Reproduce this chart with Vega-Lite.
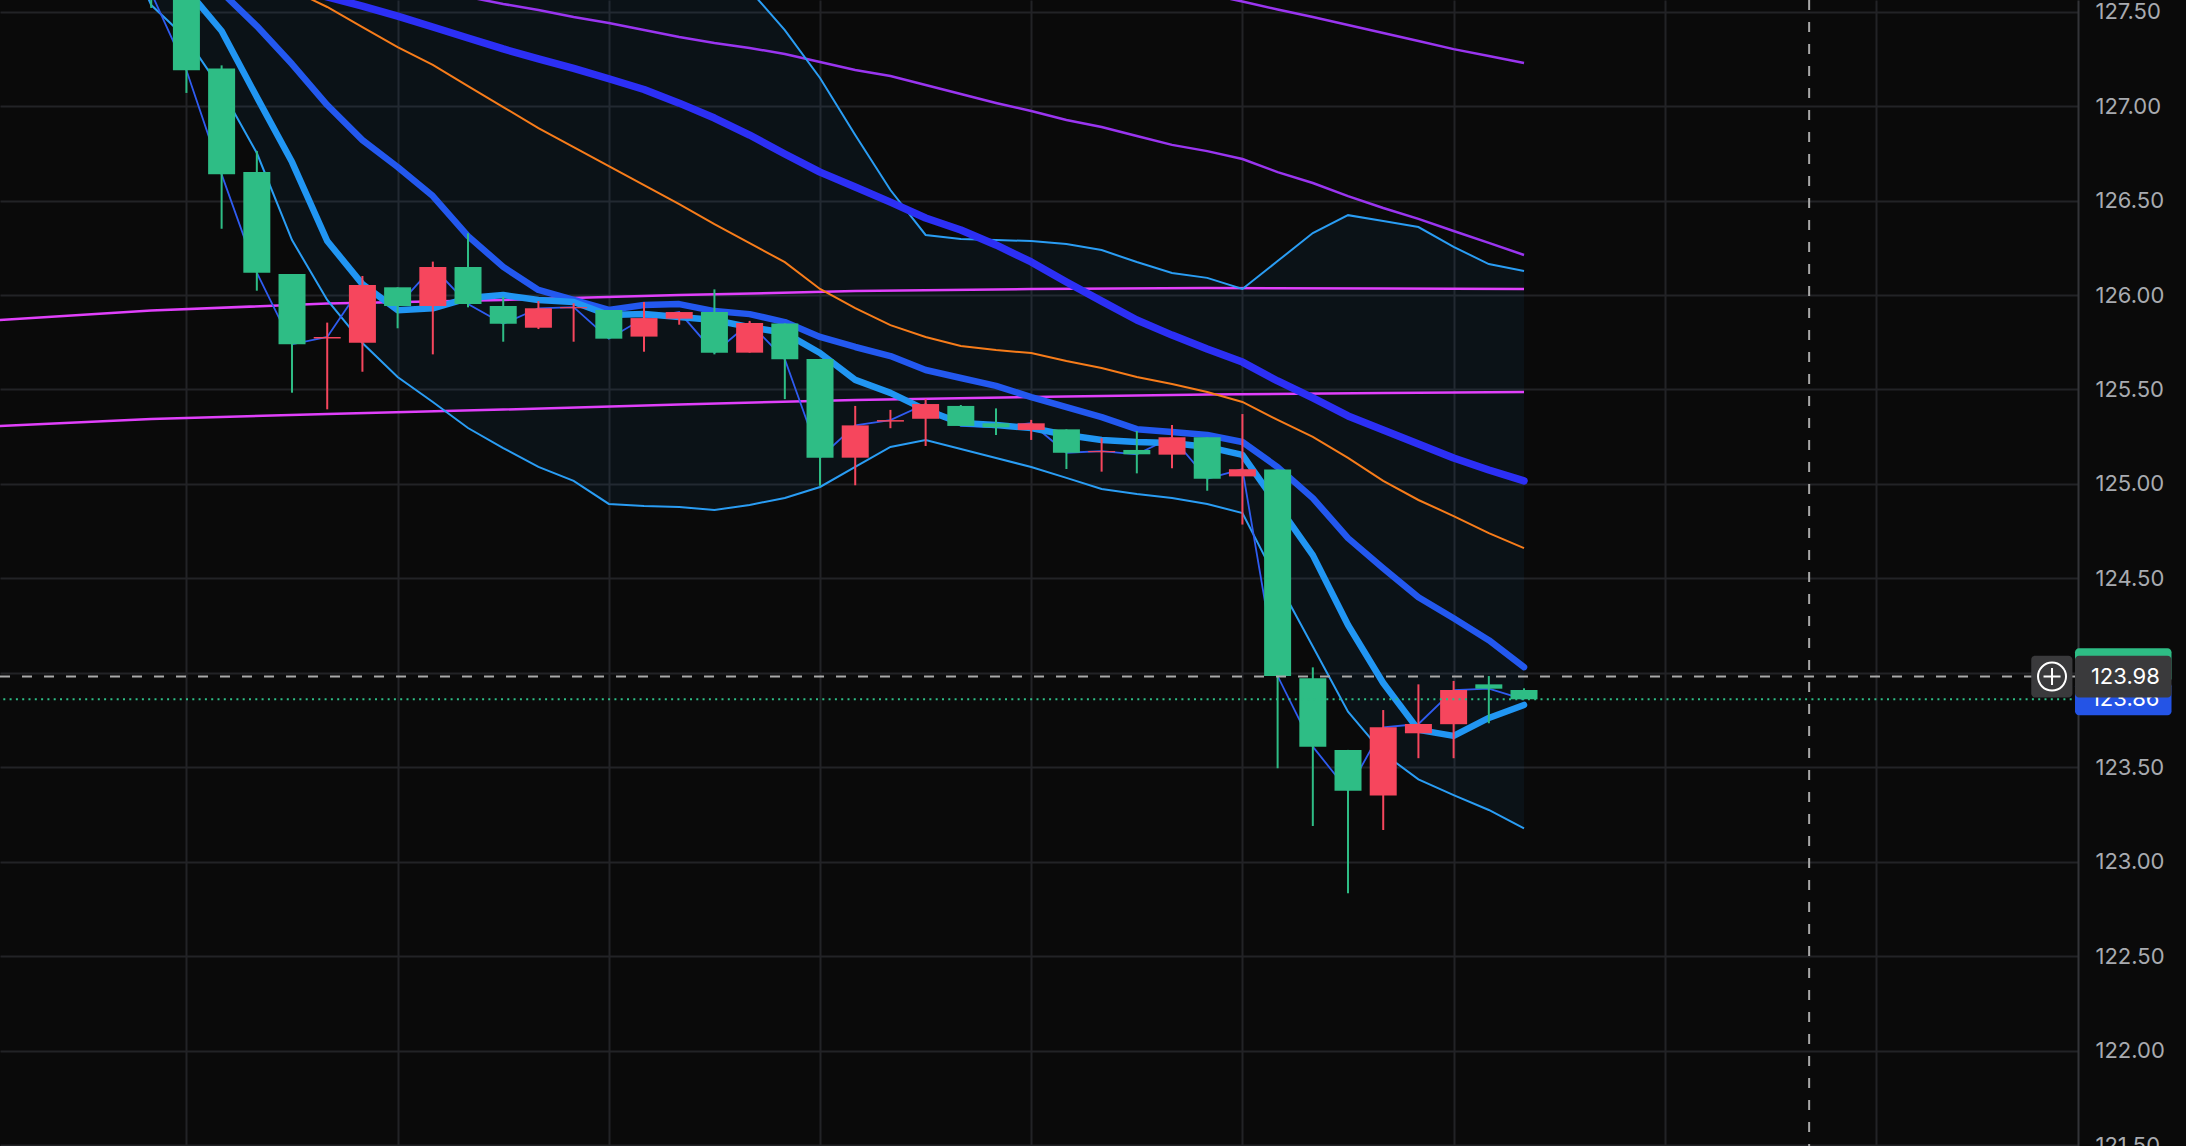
{
  "$schema": "https://vega.github.io/schema/vega-lite/v6.json",
  "width": 2078,
  "height": 1146,
  "autosize": {"type": "none"},
  "padding": {"left": 0, "top": 0, "right": 108, "bottom": 0},
  "background": "#0a0a0a",
  "config": {"view": {"stroke": null}},
  "datasets": {
    "bars": [
      {"i": -1, "o": null, "h": null, "l": null, "c": null, "d": null, "bu": 129.7, "bl": 127.95, "e1": null, "e2": null, "e3": null, "or": null, "p1": null, "p2": null},
      {"i": 0, "o": 128.0, "h": 128.1, "l": 127.52, "c": 127.6, "d": "dn", "bu": 129.6, "bl": 127.535, "e1": 127.95, "e2": null, "e3": null, "or": null, "p1": null, "p2": null},
      {"i": 1, "o": 127.6, "h": 127.62, "l": 127.07, "c": 127.19, "d": "dn", "bu": 129.5, "bl": 127.36, "e1": 127.62, "e2": 127.8, "e3": null, "or": null, "p1": null, "p2": null},
      {"i": 2, "o": 127.2, "h": 127.216, "l": 126.351, "c": 126.639, "d": "dn", "bu": 129.4, "bl": 127.085, "e1": 127.398, "e2": 127.604, "e3": null, "or": null, "p1": null, "p2": null},
      {"i": 3, "o": 126.651, "h": 126.763, "l": 126.023, "c": 126.118, "d": "dn", "bu": 129.3, "bl": 126.752, "e1": 127.048, "e2": 127.424, "e3": 127.69, "or": 127.7, "p1": null, "p2": null},
      {"i": 4, "o": 126.111, "h": 126.111, "l": 125.483, "c": 125.739, "d": "dn", "bu": 129.2, "bl": 126.291, "e1": 126.704, "e2": 127.223, "e3": 127.63, "or": 127.615, "p1": null, "p2": null},
      {"i": 5, "o": 125.77, "h": 125.854, "l": 125.395, "c": 125.778, "d": "up", "bu": 129.1, "bl": 125.974, "e1": 126.286, "e2": 127.006, "e3": 127.578, "or": 127.525, "p1": null, "p2": null},
      {"i": 6, "o": 125.748, "h": 126.101, "l": 125.594, "c": 126.053, "d": "up", "bu": 129.0, "bl": 125.746, "e1": 126.058, "e2": 126.82, "e3": 127.53, "or": 127.419, "p1": null, "p2": null},
      {"i": 7, "o": 126.041, "h": 126.041, "l": 125.824, "c": 125.942, "d": "dn", "bu": 128.9, "bl": 125.566, "e1": 125.92, "e2": 126.678, "e3": 127.477, "or": 127.313, "p1": null, "p2": null},
      {"i": 8, "o": 125.942, "h": 126.177, "l": 125.686, "c": 126.148, "d": "up", "bu": 128.8, "bl": 125.434, "e1": 125.93, "e2": 126.524, "e3": 127.419, "or": 127.218, "p1": 127.62, "p2": null},
      {"i": 9, "o": 126.148, "h": 126.327, "l": 125.935, "c": 125.953, "d": "dn", "bu": 128.7, "bl": 125.296, "e1": 125.984, "e2": 126.312, "e3": 127.361, "or": 127.106, "p1": 127.578, "p2": null},
      {"i": 10, "o": 125.942, "h": 125.991, "l": 125.753, "c": 125.848, "d": "dn", "bu": 128.6, "bl": 125.19, "e1": 126.0, "e2": 126.149, "e3": 127.303, "or": 126.995, "p1": 127.541, "p2": null},
      {"i": 11, "o": 125.827, "h": 125.968, "l": 125.82, "c": 125.93, "d": "up", "bu": 128.5, "bl": 125.09, "e1": 125.974, "e2": 126.027, "e3": 127.25, "or": 126.884, "p1": 127.509, "p2": null},
      {"i": 12, "o": 125.93, "h": 125.956, "l": 125.753, "c": 125.936, "d": "up", "bu": 128.4, "bl": 125.016, "e1": 125.963, "e2": 125.974, "e3": 127.2, "or": 126.783, "p1": 127.472, "p2": null},
      {"i": 13, "o": 125.921, "h": 125.921, "l": 125.769, "c": 125.769, "d": "dn", "bu": 128.3, "bl": 124.894, "e1": 125.894, "e2": 125.921, "e3": 127.145, "or": 126.683, "p1": 127.44, "p2": null},
      {"i": 14, "o": 125.78, "h": 125.963, "l": 125.7, "c": 125.878, "d": "up", "bu": 128.2, "bl": 124.883, "e1": 125.9, "e2": 125.947, "e3": 127.088, "or": 126.582, "p1": 127.403, "p2": null},
      {"i": 15, "o": 125.875, "h": 125.91, "l": 125.843, "c": 125.91, "d": "up", "bu": 128.1, "bl": 124.878, "e1": 125.884, "e2": 125.952, "e3": 127.016, "or": 126.481, "p1": 127.366, "p2": null},
      {"i": 16, "o": 125.91, "h": 126.03, "l": 125.686, "c": 125.695, "d": "dn", "bu": 127.8, "bl": 124.862, "e1": 125.868, "e2": 125.915, "e3": 126.937, "or": 126.375, "p1": 127.334, "p2": null},
      {"i": 17, "o": 125.695, "h": 125.863, "l": 125.695, "c": 125.852, "d": "up", "bu": 127.615, "bl": 124.889, "e1": 125.83, "e2": 125.899, "e3": 126.847, "or": 126.275, "p1": 127.308, "p2": null},
      {"i": 18, "o": 125.85, "h": 125.85, "l": 125.449, "c": 125.66, "d": "dn", "bu": 127.403, "bl": 124.926, "e1": 125.8, "e2": 125.857, "e3": 126.747, "or": 126.174, "p1": 127.276, "p2": null},
      {"i": 19, "o": 125.661, "h": 125.661, "l": 124.99, "c": 125.139, "d": "dn", "bu": 127.149, "bl": 124.984, "e1": 125.693, "e2": 125.778, "e3": 126.651, "or": 126.032, "p1": 127.234, "p2": null},
      {"i": 20, "o": 125.139, "h": 125.413, "l": 124.993, "c": 125.31, "d": "up", "bu": 126.847, "bl": 125.09, "e1": 125.551, "e2": 125.725, "e3": 126.572, "or": 125.931, "p1": 127.191, "p2": null},
      {"i": 21, "o": 125.33, "h": 125.392, "l": 125.295, "c": 125.338, "d": "up", "bu": 126.556, "bl": 125.196, "e1": 125.482, "e2": 125.677, "e3": 126.492, "or": 125.841, "p1": 127.16, "p2": null},
      {"i": 22, "o": 125.345, "h": 125.45, "l": 125.201, "c": 125.423, "d": "up", "bu": 126.318, "bl": 125.233, "e1": 125.392, "e2": 125.603, "e3": 126.408, "or": 125.778, "p1": 127.112, "p2": null},
      {"i": 23, "o": 125.413, "h": 125.418, "l": 125.307, "c": 125.307, "d": "dn", "bu": 126.297, "bl": 125.185, "e1": 125.323, "e2": 125.561, "e3": 126.344, "or": 125.73, "p1": 127.064, "p2": null},
      {"i": 24, "o": 125.321, "h": 125.4, "l": 125.259, "c": 125.3, "d": "dn", "bu": 126.291, "bl": 125.137, "e1": 125.312, "e2": 125.519, "e3": 126.265, "or": 125.709, "p1": 127.017, "p2": null},
      {"i": 25, "o": 125.286, "h": 125.339, "l": 125.233, "c": 125.321, "d": "up", "bu": 126.286, "bl": 125.09, "e1": 125.296, "e2": 125.46, "e3": 126.175, "or": 125.693, "p1": 126.974, "p2": null},
      {"i": 26, "o": 125.289, "h": 125.289, "l": 125.079, "c": 125.165, "d": "dn", "bu": 126.27, "bl": 125.032, "e1": 125.259, "e2": 125.407, "e3": 126.069, "or": 125.651, "p1": 126.927, "p2": null},
      {"i": 27, "o": 125.168, "h": 125.242, "l": 125.065, "c": 125.174, "d": "up", "bu": 126.238, "bl": 124.973, "e1": 125.233, "e2": 125.354, "e3": 125.968, "or": 125.614, "p1": 126.89, "p2": null},
      {"i": 28, "o": 125.18, "h": 125.28, "l": 125.056, "c": 125.157, "d": "dn", "bu": 126.175, "bl": 124.947, "e1": 125.222, "e2": 125.29, "e3": 125.868, "or": 125.566, "p1": 126.842, "p2": null},
      {"i": 29, "o": 125.155, "h": 125.312, "l": 125.083, "c": 125.247, "d": "up", "bu": 126.117, "bl": 124.926, "e1": 125.217, "e2": 125.275, "e3": 125.788, "or": 125.529, "p1": 126.795, "p2": 127.63},
      {"i": 30, "o": 125.247, "h": 125.247, "l": 124.964, "c": 125.028, "d": "dn", "bu": 126.091, "bl": 124.894, "e1": 125.196, "e2": 125.259, "e3": 125.714, "or": 125.487, "p1": 126.762, "p2": 127.594},
      {"i": 31, "o": 125.04, "h": 125.37, "l": 124.785, "c": 125.078, "d": "up", "bu": 126.032, "bl": 124.846, "e1": 125.154, "e2": 125.222, "e3": 125.645, "or": 125.434, "p1": 126.72, "p2": 127.554},
      {"i": 32, "o": 125.077, "h": 125.077, "l": 123.495, "c": 123.983, "d": "dn", "bu": 126.18, "bl": 124.483, "e1": 124.888, "e2": 125.089, "e3": 125.545, "or": 125.339, "p1": 126.651, "p2": 127.512},
      {"i": 33, "o": 123.971, "h": 124.029, "l": 123.189, "c": 123.609, "d": "dn", "bu": 126.328, "bl": 124.139, "e1": 124.623, "e2": 124.925, "e3": 125.455, "or": 125.249, "p1": 126.593, "p2": 127.472},
      {"i": 34, "o": 123.592, "h": 123.592, "l": 122.833, "c": 123.376, "d": "dn", "bu": 126.423, "bl": 123.794, "e1": 124.253, "e2": 124.713, "e3": 125.36, "or": 125.138, "p1": 126.524, "p2": 127.43},
      {"i": 35, "o": 123.35, "h": 123.803, "l": 123.168, "c": 123.712, "d": "up", "bu": 126.392, "bl": 123.574, "e1": 123.946, "e2": 124.554, "e3": 125.286, "or": 125.016, "p1": 126.461, "p2": 127.387},
      {"i": 36, "o": 123.68, "h": 123.939, "l": 123.548, "c": 123.729, "d": "up", "bu": 126.36, "bl": 123.436, "e1": 123.698, "e2": 124.4, "e3": 125.212, "or": 124.915, "p1": 126.403, "p2": 127.345},
      {"i": 37, "o": 123.728, "h": 123.957, "l": 123.548, "c": 123.909, "d": "up", "bu": 126.255, "bl": 123.353, "e1": 123.666, "e2": 124.289, "e3": 125.137, "or": 124.83, "p1": 126.339, "p2": 127.302},
      {"i": 38, "o": 123.939, "h": 123.983, "l": 123.733, "c": 123.916, "d": "dn", "bu": 126.164, "bl": 123.274, "e1": 123.761, "e2": 124.173, "e3": 125.074, "or": 124.74, "p1": 126.276, "p2": 127.265},
      {"i": 39, "o": 123.909, "h": 123.918, "l": 123.86, "c": 123.86, "d": "dn", "bu": 126.127, "bl": 123.177, "e1": 123.83, "e2": 124.03, "e3": 125.016, "or": 124.66, "p1": 126.212, "p2": 127.228}
    ],
    "mag": [
      {"i": -5, "m1": 125.86, "m2": 125.3},
      {"i": 0, "m1": 125.918, "m2": 125.344},
      {"i": 5, "m1": 125.955, "m2": 125.37},
      {"i": 10, "m1": 125.974, "m2": 125.394},
      {"i": 15, "m1": 126.0, "m2": 125.421},
      {"i": 20, "m1": 126.021, "m2": 125.444},
      {"i": 25, "m1": 126.032, "m2": 125.46},
      {"i": 30, "m1": 126.037, "m2": 125.474},
      {"i": 35, "m1": 126.035, "m2": 125.481},
      {"i": 39, "m1": 126.032, "m2": 125.487}
    ],
    "prices": [
      {"p": 123.98, "t": "123.98"},
      {"p": 123.86, "t": "123.86"}
    ]
  },
  "data": {"name": "bars"},
  "layer": [
    {
      "mark": {"type": "area", "color": "#2196f3", "opacity": 0.06, "clip": true, "invalid": "filter"},
      "encoding": {
        "x": {"field": "i", "type": "quantitative", "title": null, "scale": {"domain": [-4.154, 54.596], "nice": false, "zero": false},
          "axis": {"values": [1, 7, 13, 19, 25, 31, 37, 43, 49], "labels": false, "ticks": false, "domain": false, "grid": true, "gridColor": "#222326", "gridWidth": 2, "title": null}},
        "y": {"field": "bl", "type": "quantitative", "title": null, "scale": {"domain": [121.495, 127.562], "nice": false, "zero": false},
          "axis": {"orient": "right", "values": [121.5, 122, 122.5, 123, 123.5, 124, 124.5, 125, 125.5, 126, 126.5, 127, 127.5], "format": ".2f", "labelFont": "Inter", "labelFontSize": 22, "labelColor": "#a8abb0", "labelPadding": 17, "ticks": false, "tickSize": 0, "domain": true, "domainColor": "#333438", "domainWidth": 2, "grid": true, "gridColor": "#222326", "gridWidth": 2, "title": null, "labelAlign": "left", "labelBaseline": "middle"}},
        "y2": {"field": "bu"}
      }
    },
    {
      "data": {"name": "mag"},
      "mark": {"type": "line", "color": "#e040fb", "strokeWidth": 2.5, "clip": true},
      "encoding": {
        "x": {"field": "i", "type": "quantitative", "title": null},
        "y": {"field": "m1", "type": "quantitative", "title": null}
      }
    },
    {
      "data": {"name": "mag"},
      "mark": {"type": "line", "color": "#e040fb", "strokeWidth": 2.5, "clip": true},
      "encoding": {
        "x": {"field": "i", "type": "quantitative", "title": null},
        "y": {"field": "m2", "type": "quantitative", "title": null}
      }
    },
    {
      "mark": {"type": "line", "color": "#9a35f0", "strokeWidth": 2.5, "clip": true, "invalid": "filter"},
      "encoding": {
        "x": {"field": "i", "type": "quantitative", "title": null},
        "y": {"field": "p1", "type": "quantitative", "title": null}
      }
    },
    {
      "mark": {"type": "line", "color": "#9a35f0", "strokeWidth": 2.5, "clip": true, "invalid": "filter"},
      "encoding": {
        "x": {"field": "i", "type": "quantitative", "title": null},
        "y": {"field": "p2", "type": "quantitative", "title": null}
      }
    },
    {
      "mark": {"type": "line", "color": "#f77c1a", "strokeWidth": 2, "clip": true, "invalid": "filter"},
      "encoding": {
        "x": {"field": "i", "type": "quantitative", "title": null},
        "y": {"field": "or", "type": "quantitative", "title": null}
      }
    },
    {
      "mark": {"type": "line", "color": "#2a9df4", "strokeWidth": 2, "clip": true, "invalid": "filter"},
      "encoding": {
        "x": {"field": "i", "type": "quantitative", "title": null},
        "y": {"field": "bu", "type": "quantitative", "title": null}
      }
    },
    {
      "mark": {"type": "line", "color": "#2a9df4", "strokeWidth": 2, "clip": true, "invalid": "filter"},
      "encoding": {
        "x": {"field": "i", "type": "quantitative", "title": null},
        "y": {"field": "bl", "type": "quantitative", "title": null}
      }
    },
    {
      "mark": {"type": "line", "color": "#2f5cf0", "strokeWidth": 1.8, "clip": true, "invalid": "filter"},
      "encoding": {
        "x": {"field": "i", "type": "quantitative", "title": null},
        "y": {"field": "c", "type": "quantitative", "title": null}
      }
    },
    {
      "mark": {"type": "line", "color": "#2c2ff5", "strokeWidth": 7.5, "strokeCap": "round", "strokeJoin": "round", "clip": true, "invalid": "filter"},
      "encoding": {
        "x": {"field": "i", "type": "quantitative", "title": null},
        "y": {"field": "e3", "type": "quantitative", "title": null}
      }
    },
    {
      "mark": {"type": "line", "color": "#2358ef", "strokeWidth": 6.5, "strokeCap": "round", "strokeJoin": "round", "clip": true, "invalid": "filter"},
      "encoding": {
        "x": {"field": "i", "type": "quantitative", "title": null},
        "y": {"field": "e2", "type": "quantitative", "title": null}
      }
    },
    {
      "mark": {"type": "line", "color": "#2196f3", "strokeWidth": 6.5, "strokeCap": "round", "strokeJoin": "round", "clip": true, "invalid": "filter"},
      "encoding": {
        "x": {"field": "i", "type": "quantitative", "title": null},
        "y": {"field": "e1", "type": "quantitative", "title": null}
      }
    },
    {
      "mark": {"type": "rule", "strokeWidth": 2, "clip": true, "invalid": "filter"},
      "encoding": {
        "x": {"field": "i", "type": "quantitative", "title": null},
        "y": {"field": "l", "type": "quantitative", "title": null},
        "y2": {"field": "h"},
        "color": {"field": "d", "type": "nominal", "scale": {"domain": ["up", "dn"], "range": ["#f6465d", "#2ebd85"]}, "legend": null}
      }
    },
    {
      "mark": {"type": "bar", "size": 27, "clip": true, "invalid": "filter"},
      "encoding": {
        "x": {"field": "i", "type": "quantitative", "title": null},
        "y": {"field": "o", "type": "quantitative", "title": null},
        "y2": {"field": "c"},
        "color": {"field": "d", "type": "nominal", "scale": {"domain": ["up", "dn"], "range": ["#f6465d", "#2ebd85"]}, "legend": null}
      }
    },
    {
      "data": {"values": [{}]},
      "mark": {"type": "rule", "color": "#2ebd85", "strokeWidth": 2, "strokeDash": [2, 4.3]},
      "encoding": {
        "y": {"datum": 123.86, "type": "quantitative", "title": null}
      }
    },
    {
      "data": {"values": [{}]},
      "mark": {"type": "rule", "color": "#a9a9a9", "strokeWidth": 2, "strokeDash": [10, 12]},
      "encoding": {
        "y": {"datum": 123.98, "type": "quantitative", "title": null}
      }
    },
    {
      "data": {"values": [{}]},
      "mark": {"type": "rule", "color": "#a9a9a9", "strokeWidth": 2, "strokeDash": [10, 12]},
      "encoding": {
        "x": {"datum": 47.1, "type": "quantitative", "title": null}
      }
    },
    {
      "data": {"values": [{}]},
      "mark": {"type": "rect", "color": "#2ebd85", "cornerRadius": 4},
      "encoding": {
        "x": {"datum": 54.653, "type": "quantitative", "title": null},
        "x2": {"datum": 57.395},
        "y": {"datum": 124.13, "type": "quantitative", "title": null},
        "y2": {"datum": 123.95}
      }
    },
    {
      "data": {"values": [{}]},
      "mark": {"type": "rect", "color": "#2454e6", "cornerRadius": 4},
      "encoding": {
        "x": {"datum": 54.653, "type": "quantitative", "title": null},
        "x2": {"datum": 57.395},
        "y": {"datum": 123.95, "type": "quantitative", "title": null},
        "y2": {"datum": 123.775}
      }
    },
    {
      "data": {"name": "prices"},
      "transform": [{"filter": "datum.p < 123.9"}],
      "mark": {"type": "text", "color": "#ffffff", "font": "Inter", "fontSize": 22, "align": "left", "baseline": "middle"},
      "encoding": {
        "x": {"datum": 55.105, "type": "quantitative", "title": null},
        "y": {"field": "p", "type": "quantitative", "title": null},
        "text": {"field": "t"}
      }
    },
    {
      "data": {"values": [{}]},
      "mark": {"type": "rect", "color": "#3a3a3c", "cornerRadius": 4},
      "encoding": {
        "x": {"datum": 54.653, "type": "quantitative", "title": null},
        "x2": {"datum": 57.395},
        "y": {"datum": 124.091, "type": "quantitative", "title": null},
        "y2": {"datum": 123.869}
      }
    },
    {
      "data": {"values": [{}]},
      "mark": {"type": "rect", "color": "#3a3a3c", "cornerRadius": 4},
      "encoding": {
        "x": {"datum": 53.41, "type": "quantitative", "title": null},
        "x2": {"datum": 54.58},
        "y": {"datum": 124.091, "type": "quantitative", "title": null},
        "y2": {"datum": 123.869}
      }
    },
    {
      "data": {"name": "prices"},
      "transform": [{"filter": "datum.p > 123.9"}],
      "mark": {"type": "text", "color": "#ffffff", "font": "Inter", "fontSize": 22, "align": "left", "baseline": "middle"},
      "encoding": {
        "x": {"datum": 55.105, "type": "quantitative", "title": null},
        "y": {"field": "p", "type": "quantitative", "title": null},
        "text": {"field": "t"}
      }
    },
    {
      "data": {"values": [{}]},
      "mark": {"type": "point", "shape": "circle", "size": 784, "filled": false, "stroke": "#ffffff", "strokeWidth": 2, "opacity": 1},
      "encoding": {
        "x": {"datum": 54.0, "type": "quantitative", "title": null},
        "y": {"datum": 123.98, "type": "quantitative", "title": null}
      }
    },
    {
      "data": {"values": [{}]},
      "mark": {"type": "point", "shape": "M-1,0H1M0,-1V1", "size": 289, "filled": false, "stroke": "#ffffff", "strokeWidth": 2, "opacity": 1},
      "encoding": {
        "x": {"datum": 54.0, "type": "quantitative", "title": null},
        "y": {"datum": 123.98, "type": "quantitative", "title": null}
      }
    }
  ]
}
